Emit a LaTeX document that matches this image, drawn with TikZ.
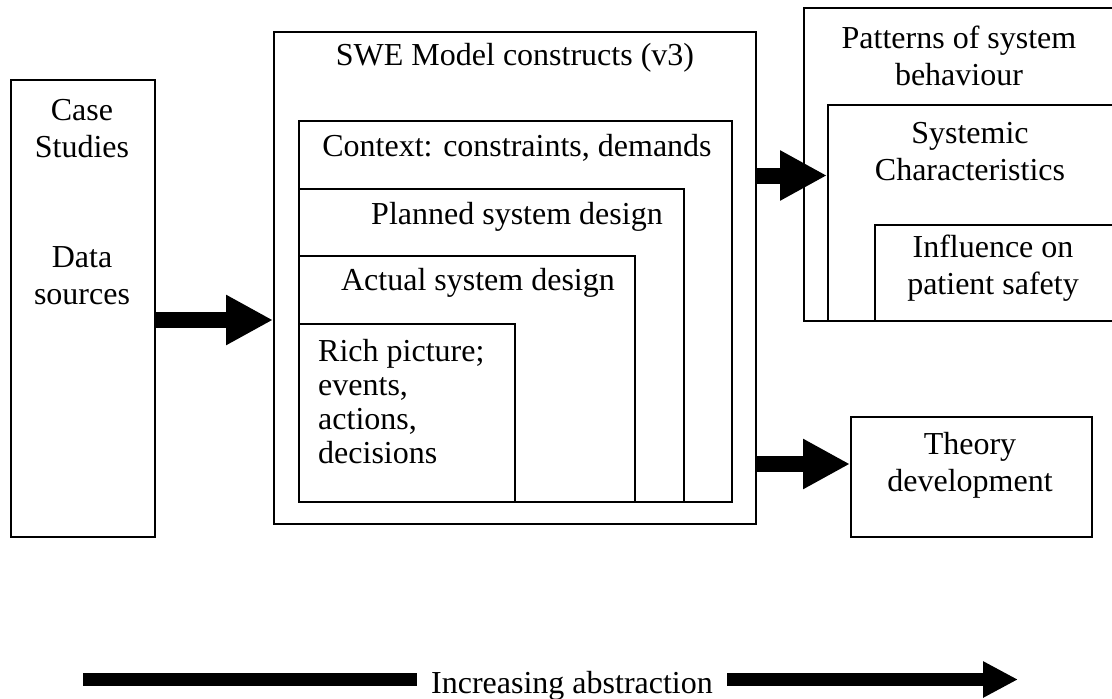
\documentclass[tikz,border=0pt]{standalone}
\usepackage{fontspec}
\setmainfont{Liberation Serif}
\usetikzlibrary{arrows.meta}
\begin{document}
\begin{tikzpicture}[x=1pt,y=-1pt,
  box/.style={draw=black,line width=1.5pt,rectangle,inner sep=0pt,anchor=north west},
  lbl/.style={inner sep=0pt,align=center,font=\fontsize{32}{37}\selectfont},
  bigarrow/.style={line width=16pt,-{Triangle[length=47pt,width=47pt]}},
  thinbar/.style={line width=13pt}]
\useasboundingbox (0,0) rectangle (1112,699);
\fill[white] (0,0) rectangle (1112,699);
% boxes
\node[box,minimum width=144pt,minimum height=457pt] (cs) at (10,79) {};
\node[box,minimum width=482pt,minimum height=492pt] (swe) at (273,31) {};
\node[box,minimum width=433pt,minimum height=381pt] (ctx) at (298,120) {};
\node[box,minimum width=385pt,minimum height=313pt] (plan) at (298,188) {};
\node[box,minimum width=336pt,minimum height=246pt] (act) at (298,255) {};
\node[box,minimum width=216pt,minimum height=178pt] (rich) at (298,323) {};
\node[box,minimum width=320pt,minimum height=313pt] (pat) at (803,7) {};
\node[box,minimum width=296pt,minimum height=216pt] (sys) at (827,104) {};
\node[box,minimum width=249pt,minimum height=96pt] (inf) at (874,224) {};
\node[box,minimum width=241pt,minimum height=120pt] (thy) at (850,416) {};
% texts
\node[lbl] (tcase) at (82,128.5) {Case\\Studies};
\node[lbl] (tdata) at (82,276) {Data\\sources};
\node[lbl] (tswe) at (515,58) {SWE Model constructs (v3)};
\node[lbl] (tctx) at (517,148) {Context: constraints, demands};
\node[lbl] (tplan) at (517,217) {Planned system design};
\node[lbl] (tact) at (478,283) {Actual system design};
\node[lbl,align=left,anchor=west,font=\fontsize{32}{34.3}\selectfont] (trich) at (318,401.5) {Rich picture;\\events,\\actions,\\decisions};
\node[lbl] (tpat) at (959,56) {Patterns of system\\behaviour};
\node[lbl] (tsys) at (970,152) {Systemic\\Characteristics};
\node[lbl] (tinf) at (993,268) {Influence on\\patient safety};
\node[lbl] (tthy) at (970,465) {Theory\\development};
\node[lbl,anchor=base,inner xsep=14pt] (tabs) at (572,693) {Increasing abstraction};
% connector heights
\coordinate (y1) at (0,320);
\coordinate (y2) at (0,175.5);
\coordinate (y3) at (0,464);
\coordinate (yb) at (0,679.5);
\coordinate (bstart) at (83,679.5);
\coordinate (bend) at (1018,679.5);
% arrows
\draw[bigarrow] (cs.east |- y1) -- (swe.west |- y1);
\draw[bigarrow] (swe.east |- y2) -- (sys.west |- y2);
\draw[bigarrow] (swe.east |- y3) -- (thy.west |- y3);
\draw[thinbar] (bstart) -- (tabs.west |- yb);
\draw[thinbar,-{Triangle[length=35pt,width=34pt]}] (tabs.east |- yb) -- (bend);
\end{tikzpicture}
\end{document}
